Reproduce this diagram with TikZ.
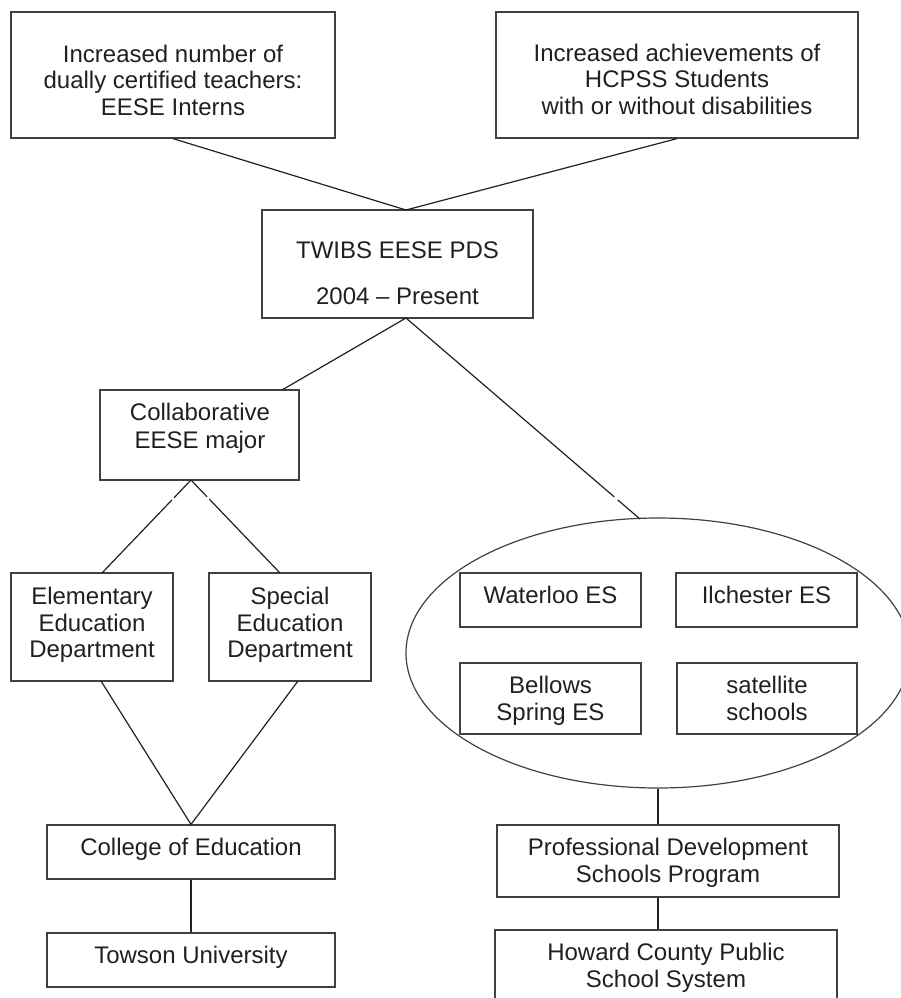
\documentclass[tikz,border=0pt]{standalone}
\usepackage{fontspec}
\setmainfont{Liberation Sans}
\usetikzlibrary{fit,calc,shapes.geometric}
\definecolor{ink}{HTML}{231F20}
\definecolor{edgec}{HTML}{404040}
\begin{document}
\begin{tikzpicture}[x=0.5pt,y=-0.5pt,
  box/.style={draw=edgec, line width=0.6pt, inner sep=0pt, rectangle},
  txt/.style={anchor=north, align=center, inner sep=0pt, text=ink, font=\fontsize{12}{13.25}\selectfont},
  conn/.style={draw=ink, line width=0.6pt}]
\useasboundingbox (0,0) rectangle (901,998);
\clip (0,0) rectangle (901,998);
% boxes
\node[box, fit={(11,12) (335,138)}] (tl) {};
\node[box, fit={(496,12) (858,138)}] (tr) {};
\node[box, fit={(262,210) (533,318)}] (twibs) {};
\node[box, fit={(100,390) (299,480)}] (collab) {};
\node[box, fit={(11,573) (173,681)}] (elem) {};
\node[box, fit={(209,573) (371,681)}] (spec) {};
\node[box, fit={(47,825) (335,879)}] (coll) {};
\node[box, fit={(47,933) (335,987)}] (towson) {};
\node[draw=edgec, line width=0.6pt, ellipse, inner sep=0pt, minimum width=252pt, minimum height=135pt] (schools) at (658,653) {};
\node[box, fit={(460,573) (641,627)}] (water) {};
\node[box, fit={(676,573) (857,627)}] (ilch) {};
\node[box, fit={(460,663) (641,734)}] (bell) {};
\node[box, fit={(677,663) (857,734)}] (sat) {};
\node[box, fit={(497,825) (839,897)}] (pds) {};
\node[box, fit={(495,930) (837,1010)}] (hcpss) {};
% texts
\node[txt] (tl-t) at (173,44.7) {Increased number of\\dually certified teachers:\\EESE Interns};
\node[txt] (tr-t) at (677,43.7) {Increased achievements of\\HCPSS Students\\with or without disabilities};
\node[txt] (twibs-t) at (397.5,241.7) {TWIBS EESE PDS\\[9.75pt]2004 -- Present};
\node[txt] (collab-t) at (200,402.7) {Collaborative\\[0.75pt]EESE major};
\node[txt] (elem-t) at (92,586.7) {Elementary\\Education\\Department};
\node[txt] (spec-t) at (290,586.7) {Special\\Education\\Department};
\node[txt] (coll-t) at (191,837.7) {College of Education};
\node[txt] (towson-t) at (191,945.7) {Towson University};
\node[txt] (water-t) at (550.5,585.7) {Waterloo ES};
\node[txt] (ilch-t) at (766.5,585.7) {Ilchester ES};
\node[txt] (bell-t) at (550.5,675.7) {Bellows\\Spring ES};
\node[txt] (sat-t) at (767,675.7) {satellite\\schools};
\node[txt] (pds-t) at (668,837.7) {Professional Development\\Schools Program};
\node[txt] (hcpss-t) at (666,942.7) {Howard County Public\\School System};
% join points
\coordinate (twtop) at (406,210);
\coordinate (twbot) at (406,318);
\coordinate (coltop) at (282,390);
\coordinate (colbot) at (191,480);
\coordinate (eltop) at (102,573);
\coordinate (sptop) at (280,573);
\coordinate (elbot) at (101,681);
\coordinate (spbot) at (298,681);
\coordinate (elltop) at (640,519);
% connectors
\draw[conn] (tl.south) -- (twtop);
\draw[conn] (tr.south) -- (twtop);
\draw[conn] (twbot) -- (coltop);
\draw[conn] (twbot) -- ($(twbot)!0.89!(elltop)$);
\draw[conn] ($(twbot)!0.905!(elltop)$) -- (elltop);
\draw[conn] (colbot) -- ($(colbot)!0.19!(eltop)$);
\draw[conn] ($(colbot)!0.215!(eltop)$) -- (eltop);
\draw[conn] (colbot) -- ($(colbot)!0.18!(sptop)$);
\draw[conn] ($(colbot)!0.205!(sptop)$) -- (sptop);
\draw[conn] (elbot) -- (coll.north);
\draw[conn] (spbot) -- (coll.north);
\draw[conn, line width=0.9pt] (coll.south) -- (towson.north);
\draw[conn] (schools.south) -- (schools.south |- pds.north);
\draw[conn, line width=0.9pt] (pds.south -| schools.south) -- (hcpss.north -| schools.south);
\end{tikzpicture}
\end{document}
